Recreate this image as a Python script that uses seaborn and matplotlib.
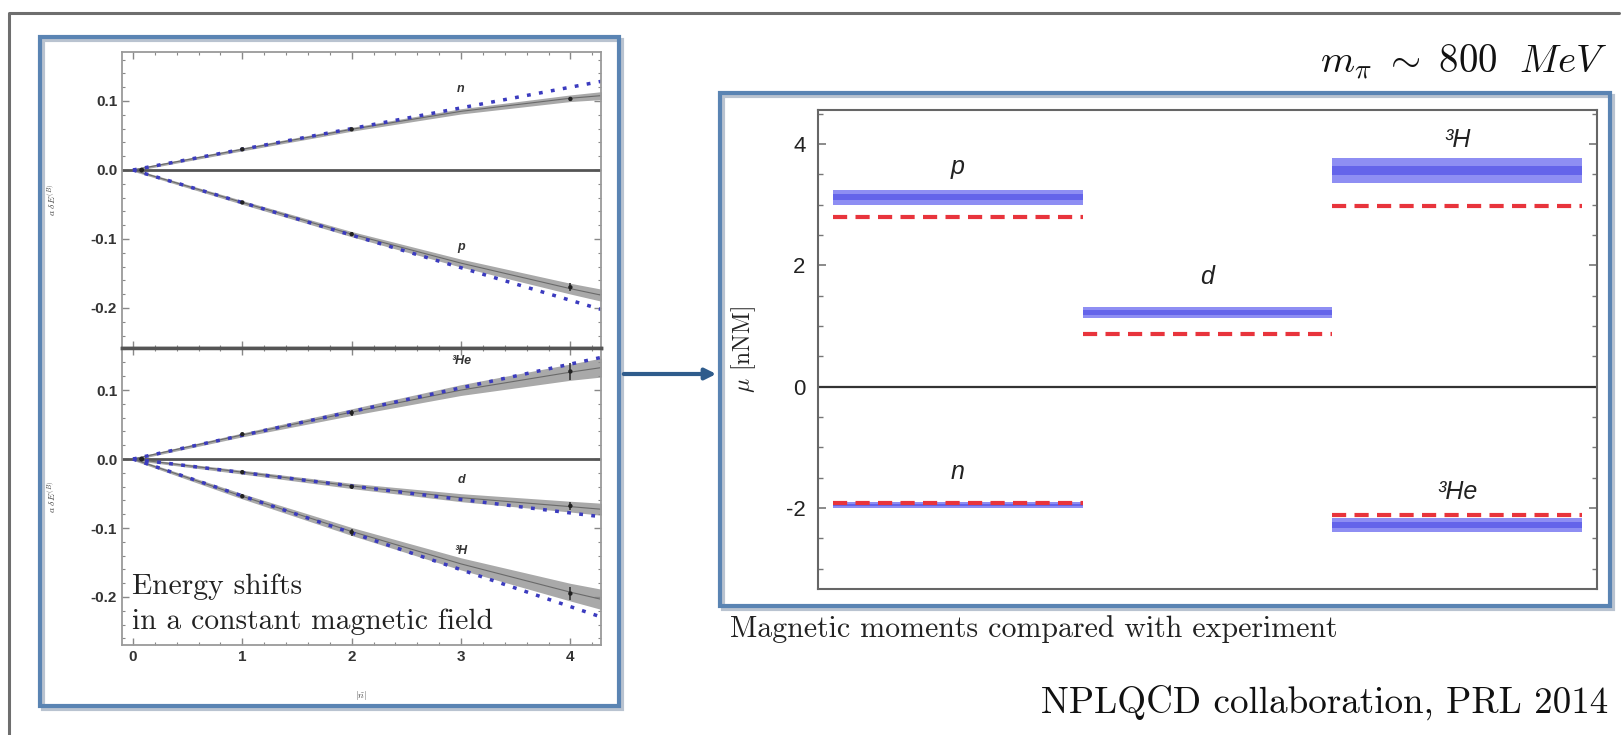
import numpy as np
import pandas as pd
import matplotlib
matplotlib.use("Agg")
import matplotlib.pyplot as plt
import seaborn as sns
from matplotlib.patches import Rectangle, FancyArrowPatch
from matplotlib.lines import Line2D
from matplotlib.ticker import MultipleLocator

# ---------------- data: energy shifts (left figure) ----------------
field_grid = [0, 1, 2, 3, 4, 4.3]
band_n = [0.0, 0.030, 0.059, 0.085, 0.104, 0.108]
band_p = [0.0, -0.047, -0.093, -0.135, -0.172, -0.182]
band_he3 = [0.0, 0.035, 0.068, 0.100, 0.126, 0.133]
band_d = [0.0, -0.019, -0.039, -0.056, -0.069, -0.073]
band_h3 = [0.0, -0.054, -0.105, -0.152, -0.193, -0.204]
berr_n = [0.0, 0.0005, 0.001, 0.002, 0.003, 0.004]
berr_p = [0.0, 0.001, 0.002, 0.004, 0.006, 0.007]
berr_he3 = [0.0, 0.001, 0.003, 0.006, 0.010, 0.012]
berr_d = [0.0, 0.001, 0.002, 0.004, 0.006, 0.007]
berr_h3 = [0.0, 0.002, 0.004, 0.007, 0.011, 0.013]

lin_x = [0.0, 4.3]
lin_n = [0.0, 0.129]
lin_p = [0.0, -0.203]
lin_he3 = [0.0, 0.148]
lin_d = [0.0, -0.084]
lin_h3 = [0.0, -0.230]

point_x = [0.08, 1, 2, 4]
pts_n = [0.0, 0.030, 0.059, 0.103]
pts_p = [0.0, -0.047, -0.093, -0.170]
pts_he3 = [0.0, 0.036, 0.067, 0.127]
pts_d = [0.0, -0.019, -0.040, -0.068]
pts_h3 = [0.0, -0.054, -0.106, -0.195]
perr_n = [0.001, 0.001, 0.002, 0.003]
perr_p = [0.001, 0.002, 0.003, 0.006]
perr_he3 = [0.002, 0.002, 0.004, 0.012]
perr_d = [0.001, 0.002, 0.003, 0.006]
perr_h3 = [0.002, 0.003, 0.005, 0.010]

top_labels = ["n", "p"]
top_label_y = [0.118, -0.112]
bot_labels = ["³He", "d", "³H"]
bot_label_y = [0.142, -0.031, -0.133]
label_x = 3.0

# ---------------- data: magnetic moments (right figure) ----------------
nuclei = ["p", "d", "³H", "n", "³He"]
column = [0, 1, 2, 0, 2]
mu_lqcd = [3.12, 1.22, 3.56, -1.95, -2.28]
mu_err_total = [0.12, 0.09, 0.21, 0.045, 0.12]
mu_err_stat = [0.05, 0.04, 0.07, 0.02, 0.05]
mu_exp = [2.79, 0.86, 2.98, -1.91, -2.11]
nuc_label_y = [3.62, 1.81, 4.07, -1.40, -1.73]

# ---------------- style ----------------
sns.set_theme(style="ticks")
plt.rcParams["font.family"] = ["Liberation Sans", "DejaVu Sans"]
plt.rcParams["mathtext.fontset"] = "cm"
plt.rcParams["axes.unicode_minus"] = False

W, H = 1622, 735
fig = plt.figure(figsize=(W / 100, H / 100), dpi=100)
fig.patch.set_facecolor("white")


def rect(x0, y0, x1, y1):
    return [x0 / W, 1 - y1 / H, (x1 - x0) / W, (y1 - y0) / H]


def fx(x):
    return x / W


def fy(y):
    return 1 - y / H


# outer slide frame
fig.add_artist(Line2D([fx(9), fx(9), fx(1619)], [0, fy(13), fy(13)],
                      color="#6e6e6e", lw=2.2, transform=fig.transFigure))

# blue boxes with shadow
for (x0, y0, x1, y1) in [(40, 37, 619, 706), (720, 93, 1610, 606)]:
    fig.add_artist(Rectangle((fx(x0 + 3), fy(y1 + 3)), (x1 - x0) / W, (y1 - y0) / H,
                             fill=False, ec="#b9c3d0", lw=3, transform=fig.transFigure))
    fig.add_artist(Rectangle((fx(x0), fy(y1)), (x1 - x0) / W, (y1 - y0) / H,
                             fill=False, ec="#5a84b3", lw=3, transform=fig.transFigure))

# arrow
fig.add_artist(FancyArrowPatch((fx(621), fy(374)), (fx(719), fy(374)), arrowstyle="-|>",
                               mutation_scale=16, color="#2f5c8c", lw=3,
                               transform=fig.transFigure))

# ---------------- left figure ----------------
ax_top = fig.add_axes(rect(122, 52, 601, 348))
ax_bot = fig.add_axes(rect(122, 348, 601, 645))

dot_color = "#3b3bbf"
band_color = "#8c8c8c"


def draw_species(ax, band, berr, lin, pts, perr):
    band = np.array(band)
    berr = np.array(berr)
    ax.fill_between(field_grid, band - berr - 0.0018, band + berr + 0.0018,
                    color=band_color, alpha=0.75, lw=0)
    sns.lineplot(x=field_grid, y=band, ax=ax, color="#6a6a6a", lw=0.8, estimator=None, sort=False)
    sns.lineplot(x=lin_x, y=lin, ax=ax, color=dot_color, lw=2.5, estimator=None, sort=False,
                 linestyle=(0, (1.1, 2.4)))
    ax.errorbar(point_x, pts, yerr=perr, fmt="none", ecolor="#333333", elinewidth=1.2, capsize=0)
    sns.scatterplot(x=point_x, y=pts, ax=ax, color="#222222", s=10, edgecolor="none", zorder=5)


draw_species(ax_top, band_n, berr_n, lin_n, pts_n, perr_n)
draw_species(ax_top, band_p, berr_p, lin_p, pts_p, perr_p)
draw_species(ax_bot, band_he3, berr_he3, lin_he3, pts_he3, perr_he3)
draw_species(ax_bot, band_d, berr_d, lin_d, pts_d, perr_d)
draw_species(ax_bot, band_h3, berr_h3, lin_h3, pts_h3, perr_h3)

for lab, ly in zip(top_labels, top_label_y):
    ax_top.text(label_x, ly, lab, fontsize=9, style="italic", weight="bold", ha="center",
                va="center", color="#333")
for lab, ly in zip(bot_labels, bot_label_y):
    ax_bot.text(label_x, ly, lab, fontsize=9, style="italic", weight="bold", ha="center",
                va="center", color="#333")

ax_top.set_ylim(-0.258, 0.171)
ax_bot.set_ylim(-0.2696, 0.161)
for ax in (ax_top, ax_bot):
    ax.set_xlim(-0.10, 4.28)
    ax.axhline(0, color="#555555", lw=2, zorder=1)
    ax.xaxis.set_major_locator(MultipleLocator(1))
    ax.xaxis.set_minor_locator(MultipleLocator(0.2))
    ax.yaxis.set_major_locator(MultipleLocator(0.1))
    ax.yaxis.set_minor_locator(MultipleLocator(0.02))
    ax.tick_params(which="both", direction="in", top=True, right=True, color="#888888",
                   labelsize=11, labelcolor="#333333")
    ax.tick_params(which="major", length=5, width=1)
    ax.tick_params(which="minor", length=2.5, width=0.8)
    for lbl in ax.get_xticklabels() + ax.get_yticklabels():
        lbl.set_fontweight("bold")
    for s in ax.spines.values():
        s.set_color("#9a9a9a")
        s.set_linewidth(1.3)
    ax.yaxis.set_major_formatter(plt.FuncFormatter(lambda v, p: f"{v:.1f}".replace("-0.0", "0.0")))
    ax.set_ylabel(r"$a\ \delta E^{(B)}$", fontsize=7, color="#444")
    ax.yaxis.set_label_coords(-0.134, 0.5)
    ax.set_facecolor("white")
ax_top.spines["bottom"].set_color("#555555")
ax_top.spines["bottom"].set_linewidth(2.5)
ax_bot.spines["top"].set_color("#555555")
ax_bot.spines["top"].set_linewidth(2.5)
ax_top.tick_params(labelbottom=False)
ax_top.set_yticks([0.1, 0.0, -0.1, -0.2])
ax_bot.set_yticks([0.1, 0.0, -0.1, -0.2])
for ax in (ax_top, ax_bot):
    for lbl in ax.get_xticklabels() + ax.get_yticklabels():
        lbl.set_fontweight("bold")
ax_bot.set_xlabel(r"$|\tilde{n}|$", fontsize=7, color="#444", labelpad=18)

ax_bot.text(-0.01, -0.195, "Energy shifts", fontfamily="cmr10", fontsize=21.3, color="#222",
            va="baseline", ha="left")
ax_bot.text(-0.01, -0.247, "in a constant magnetic field", fontfamily="cmr10", fontsize=21.3,
            color="#222", va="baseline", ha="left")

# ---------------- right figure ----------------
axr = fig.add_axes(rect(818, 110, 1597, 589))
for nuc, c, m, et, es, me, ly in zip(nuclei, column, mu_lqcd, mu_err_total, mu_err_stat,
                                      mu_exp, nuc_label_y):
    xs = [c, c + 1]
    axr.fill_between(xs, [m - et] * 2, [m + et] * 2, color="#8e8ef3", lw=0, zorder=2)
    axr.fill_between(xs, [m - es] * 2, [m + es] * 2, color="#6464ea", lw=0, zorder=2)
    sns.lineplot(x=xs, y=[me, me], ax=axr, color="#e8343c", lw=3, estimator=None,
                 linestyle=(0, (3.4, 2.0)), zorder=3)
    axr.text(c + 0.5, ly, nuc, fontsize=18, style="italic", ha="center", va="center",
             color="#222")

axr.set_xlim(-0.06, 3.06)
axr.set_ylim(-3.335, 4.56)
axr.axhline(0, color="#333333", lw=1.6, zorder=1)
axr.set_xticks([])
axr.yaxis.set_major_locator(MultipleLocator(2))
axr.yaxis.set_minor_locator(MultipleLocator(0.5))
axr.tick_params(axis="y", which="both", direction="in", left=True, right=True, color="#777777",
                labelsize=16, labelcolor="#222", pad=9)
axr.tick_params(axis="y", which="major", length=6, width=1.2)
axr.tick_params(axis="y", which="minor", length=3.5, width=1)
for s in axr.spines.values():
    s.set_color("#666666")
    s.set_linewidth(1.5)
axr.set_ylabel(r"$\mu$ [nNM]", fontfamily="cmr10", fontsize=17, color="#222")
axr.yaxis.set_label_coords(-0.077, 0.5)

# ---------------- captions ----------------
fig.text(fx(1608), fy(72), r"$m_\pi\ \sim\ 800\ \ MeV$", fontsize=28, ha="right", va="baseline",
         color="#111")
fig.text(fx(730), fy(637), "Magnetic moments compared with experiment", fontfamily="cmr10",
         fontsize=21.5, ha="left", va="baseline", color="#222")
fig.text(fx(1608), fy(713), "NPLQCD collaboration, PRL 2014", fontfamily="cmr10",
         fontsize=26.7, ha="right", va="baseline", color="#111")

fig.savefig("out.png", dpi=100)
